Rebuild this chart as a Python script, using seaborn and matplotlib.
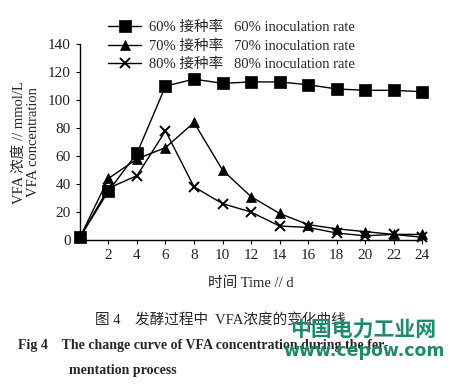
import pandas as pd
import seaborn as sns
import matplotlib.pyplot as plt

days = [0, 2, 4, 6, 8, 10, 12, 14, 16, 18, 20, 22, 24]
vfa_60 = [2, 35, 62, 110, 115, 112, 113, 113, 111, 108, 107, 107, 106]
vfa_70 = [2, 44, 58, 66, 84, 50, 31, 19, 11, 8, 6, 4, 4]
vfa_80 = [2, 37, 46, 78, 38, 26, 20, 10, 9, 5, 3, 4, 2]
labels = ['60% 接种率   60% inoculation rate',
          '70% 接种率   70% inoculation rate',
          '80% 接种率   80% inoculation rate']
xticks = [2, 4, 6, 8, 10, 12, 14, 16, 18, 20, 22, 24]
yticks = [0, 20, 40, 60, 80, 100, 120, 140]

sns.set_style('ticks')
plt.rcParams['font.family'] = ['Liberation Serif', 'Noto Sans CJK SC']

fig = plt.figure(figsize=(4.61, 3.84), dpi=100)
ax = fig.add_axes([0.1735, 0.375, 0.742, 0.51])

for vals, lab, mk, ms in zip([vfa_60, vfa_70, vfa_80], labels, ['s', '^', 'x'], [8, 7.5, 6.5]):
    sns.lineplot(x=days, y=vals, ax=ax, color='black', linewidth=1.0,
                 marker=mk, markersize=ms, markeredgewidth=1.4 if mk == 'x' else 0.5,
                 markeredgecolor='black', label=lab, clip_on=False)

ax.set_xlim(0, 24)
ax.set_ylim(0, 140)
ax.set_xticks(xticks)
ax.set_yticks(yticks)
ax.tick_params(labelsize=11, length=3, width=0.8, color='black', labelcolor='#222222')
sns.despine(ax=ax)
for s in ['left', 'bottom']:
    ax.spines[s].set_linewidth(1.0)
    ax.spines[s].set_color('black')

ax.set_xlabel('时间 Time // d', fontsize=10.5, labelpad=10)
ax.set_ylabel('VFA 浓度 // mmol/L\nVFA concentration', fontsize=10.5, labelpad=6,
              linespacing=1.1)

ax.legend(loc='upper left', bbox_to_anchor=(0.218, 0.965), bbox_transform=fig.transFigure,
          frameon=False, fontsize=10.5, handlelength=2.3, handletextpad=0.5,
          labelspacing=0.35, borderpad=0)

fig.text(0.205, 0.155, '图 4    发酵过程中  VFA浓度的变化曲线', ha='left', fontsize=10.5)
fig.text(0.04, 0.09, 'Fig 4    The change curve of VFA concentration during the fer-',
         fontsize=10, fontweight='bold')
fig.text(0.15, 0.025, 'mentation process', fontsize=10, fontweight='bold')

fig.text(0.787, 0.14, '中国电力工业网', ha='center', va='center', fontsize=15,
         fontweight='bold', color='#1f8a6c', family=['Noto Sans CJK SC'])
fig.text(0.79, 0.085, 'www.cepow.com', ha='center', va='center', fontsize=12.5,
         fontweight='bold', color='#1f8a6c', family=['DejaVu Sans'])

fig.savefig('out.png', dpi=100)
